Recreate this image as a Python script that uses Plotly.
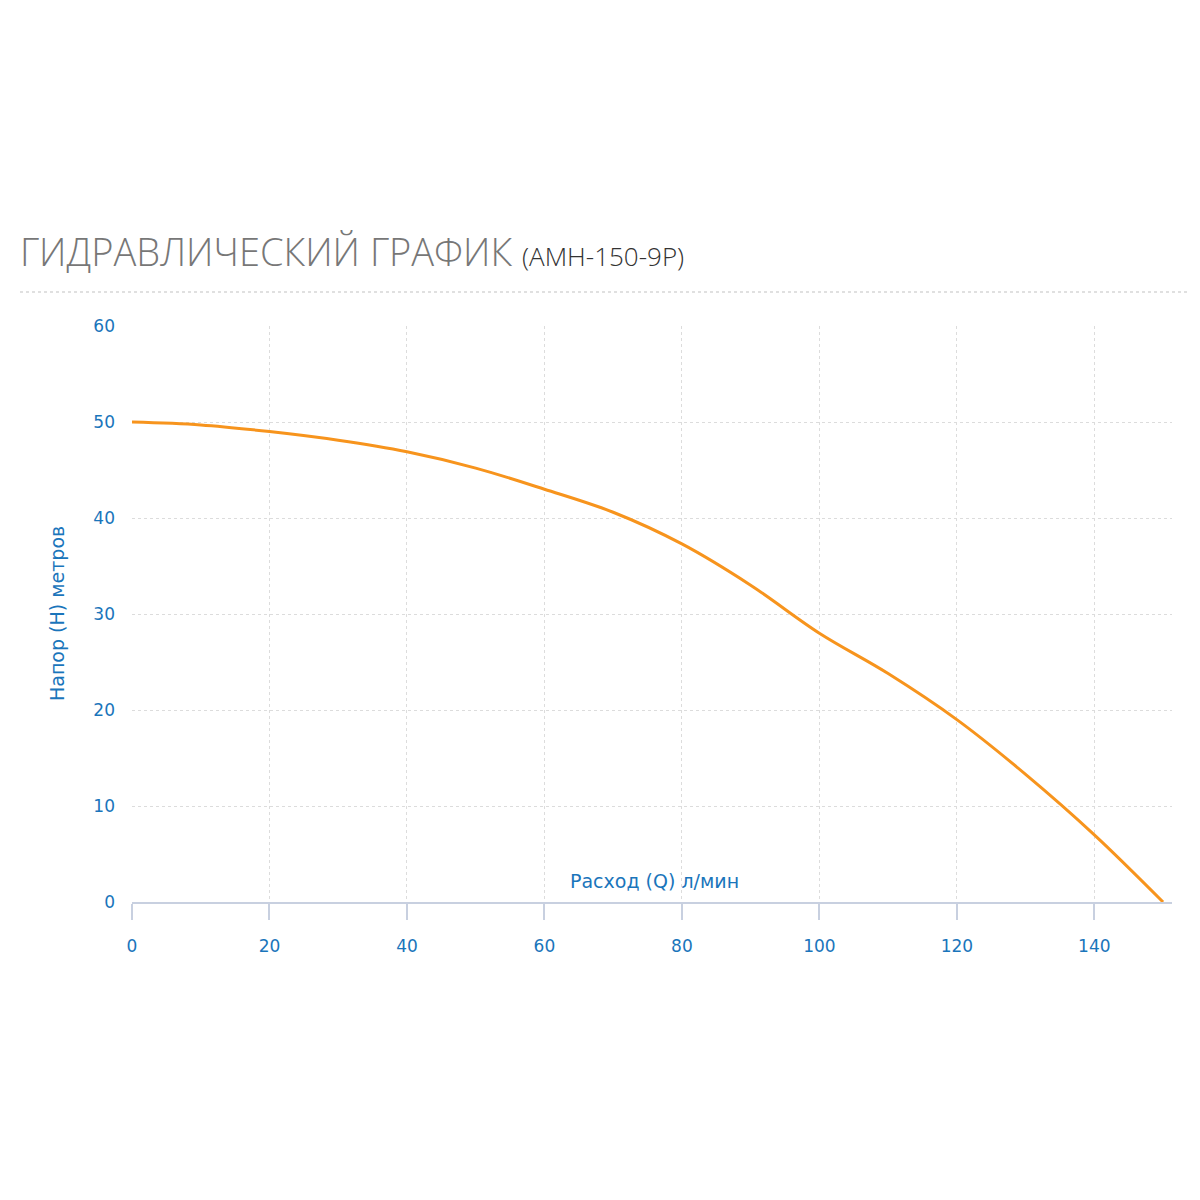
import plotly.graph_objects as go

flow = [0, 10, 20, 30, 40, 50, 60, 70, 80, 90, 100, 110, 120, 130, 140, 150]
head = [50, 49.7, 49.0, 48.1, 46.9, 45.2, 43.0, 40.6, 37.3, 33.0, 28.0, 23.8, 19.0, 13.3, 7.0, 0]
x_ticks = [0, 20, 40, 60, 80, 100, 120, 140]
y_ticks = [0, 10, 20, 30, 40, 50, 60]

blue = "#1a75bb"
fig = go.Figure(go.Scatter(x=flow, y=head, mode="lines", line=dict(color="#f7941d", width=3, shape="spline"),
                           hoverinfo="skip"))
fig.update_layout(
    width=1200, height=1200, plot_bgcolor="white", paper_bgcolor="white", showlegend=False,
    margin=dict(l=124, r=36, t=318, b=306),
    xaxis=dict(range=[0, 151.3], tickvals=x_ticks, showgrid=True, gridcolor="#dcdcdc", griddash="dot",
               zeroline=False, showline=True, linecolor="#c8d0e0", linewidth=2, ticks="outside",
               ticklen=16, tickcolor="#c8d0e0", tickwidth=2, ticklabelstandoff=12,
               tickfont=dict(family="DejaVu Sans", size=17, color=blue)),
    yaxis=dict(range=[0, 60], tickvals=y_ticks, showgrid=True, gridcolor="#dcdcdc", griddash="dot",
               zeroline=False, showline=False, ticks="", ticklabelstandoff=16,
               tickfont=dict(family="DejaVu Sans", size=17, color=blue)),
    title=dict(text="ГИДРАВЛИЧЕСКИЙ ГРАФИК <span style='font-size:26px;color:#333'>(АМН-150-9Р)</span>",
               x=12/1200, xanchor="left", y=1-245/1200, yanchor="middle",
               font=dict(family="Open Sans", size=38, color="#777", weight=300)),
    annotations=[
        dict(text="Расход (Q) л/мин", x=76, y=0, xref="x", yref="y", yshift=21, showarrow=False,
             font=dict(family="DejaVu Sans", size=19, color=blue)),
        dict(text="Напор (H) метров", x=-88/1040, y=30, xref="paper", yref="y", textangle=-90,
             showarrow=False, font=dict(family="DejaVu Sans", size=19, color=blue)),
    ],
    shapes=[dict(type="line", xref="paper", yref="paper", x0=-112/1040, x1=1058/1040,
                 y0=1+34/576, y1=1+34/576, line=dict(color="#e0e0e0", width=2, dash="dot"))],
)
fig.write_html("out.html")
